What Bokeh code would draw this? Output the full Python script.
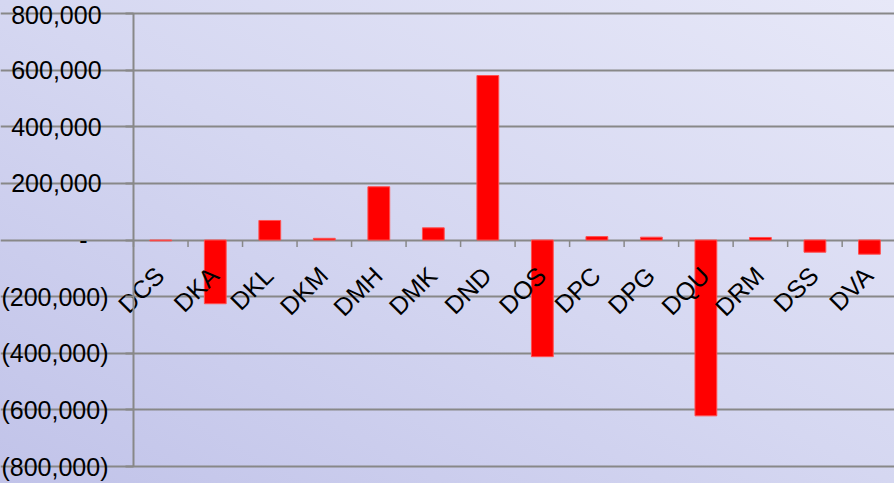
import math
from bokeh.plotting import figure
from bokeh.core.properties import value
from bokeh.models import (Range1d, FixedTicker, InlineStyleSheet, ColumnDataSource)
from bokeh.embed import file_html
from bokeh.resources import INLINE

categories = ["DCS", "DKA", "DKL", "DKM", "DMH", "DMK", "DND",
              "DOS", "DPC", "DPG", "DQU", "DRM", "DSS", "DVA"]
values = [-3000, -225000, 69000, 6000, 188000, 43000, 581000,
          -412000, 12000, 10000, -621000, 9000, -43000, -50000]
y_ticks = [-800000, -600000, -400000, -200000, 0, 200000, 400000, 600000, 800000]
# accounting style: positives padded by a bracket-width space, zero shown as a dash
y_tick_labels = ["(800,000)", "(600,000)", "(400,000)", "(200,000)", "-\u00a0\u00a0\u00a0",
                 "200,000\u00a0", "400,000\u00a0", "600,000\u00a0", "800,000\u00a0"]

FONT = "Liberation Sans"
GRAY = "#888888"

n = len(categories)
xs = [i + 0.5 for i in range(n)]
bounds = list(range(n + 1))
src = ColumnDataSource(dict(x=xs, top=values, cat=categories, base=[0] * n))
tsrc = ColumnDataSource(dict(x=bounds, y=[0] * (n + 1)))

# frame fills the whole window; the value axis sits at x = 0 (133 px from the left)
# and spans -800,000 .. 800,000 (13 px from the top, 17 px from the bottom)
p = figure(width=894, height=483, output_backend="svg", toolbar_location=None,
           x_range=Range1d(-2.44, 13.96), y_range=Range1d(-860000, 846000),
           x_axis_location=None,
           min_border_left=0, min_border_top=0, min_border_bottom=0, min_border_right=0)
p.outline_line_color = None
p.background_fill_color = None
p.border_fill_color = None
p.stylesheets = [InlineStyleSheet(css=":host { background: linear-gradient(to top right, #c1c3e9 0%, #d5d7f1 50%, #e7e8f8 100%); }")]

p.xgrid.visible = False
p.ygrid.grid_line_color = GRAY
p.ygrid.grid_line_width = 2
p.ygrid.bounds = (0, n)

yax = p.yaxis[0]
yax.fixed_location = 0
yax.bounds = (y_ticks[0], y_ticks[-1])
yax.ticker = FixedTicker(ticks=y_ticks)
yax.major_label_overrides = {t: l for t, l in zip(y_ticks, y_tick_labels)}
yax.minor_tick_line_color = None
yax.major_tick_out = 8
yax.major_tick_in = 0
yax.axis_line_color = GRAY
yax.axis_line_width = 2
yax.major_tick_line_color = GRAY
yax.major_tick_line_width = 2
yax.major_label_text_font = FONT
yax.major_label_text_font_size = "25px"
yax.major_label_text_color = "black"
yax.major_label_standoff = 17

p.vbar(x="x", top="top", bottom=0, width=0.4, source=src,
       fill_color="#FF0000", line_color="#FF5050", line_width=1)

# category boundary tick marks hanging below the zero line
p.ray(x="x", y="y", length=7, length_units="screen", angle=-math.pi / 2,
      source=tsrc, line_color=GRAY, line_width=1.5)

p.text(x="x", y="base", text="cat", source=src,
       angle=45, angle_units="deg", text_align="right", text_baseline="middle",
       x_offset=-1, y_offset=31,
       text_font=value(FONT), text_font_size=value("25px"), text_color="black")

open("out.html", "w").write(file_html(p, INLINE))
